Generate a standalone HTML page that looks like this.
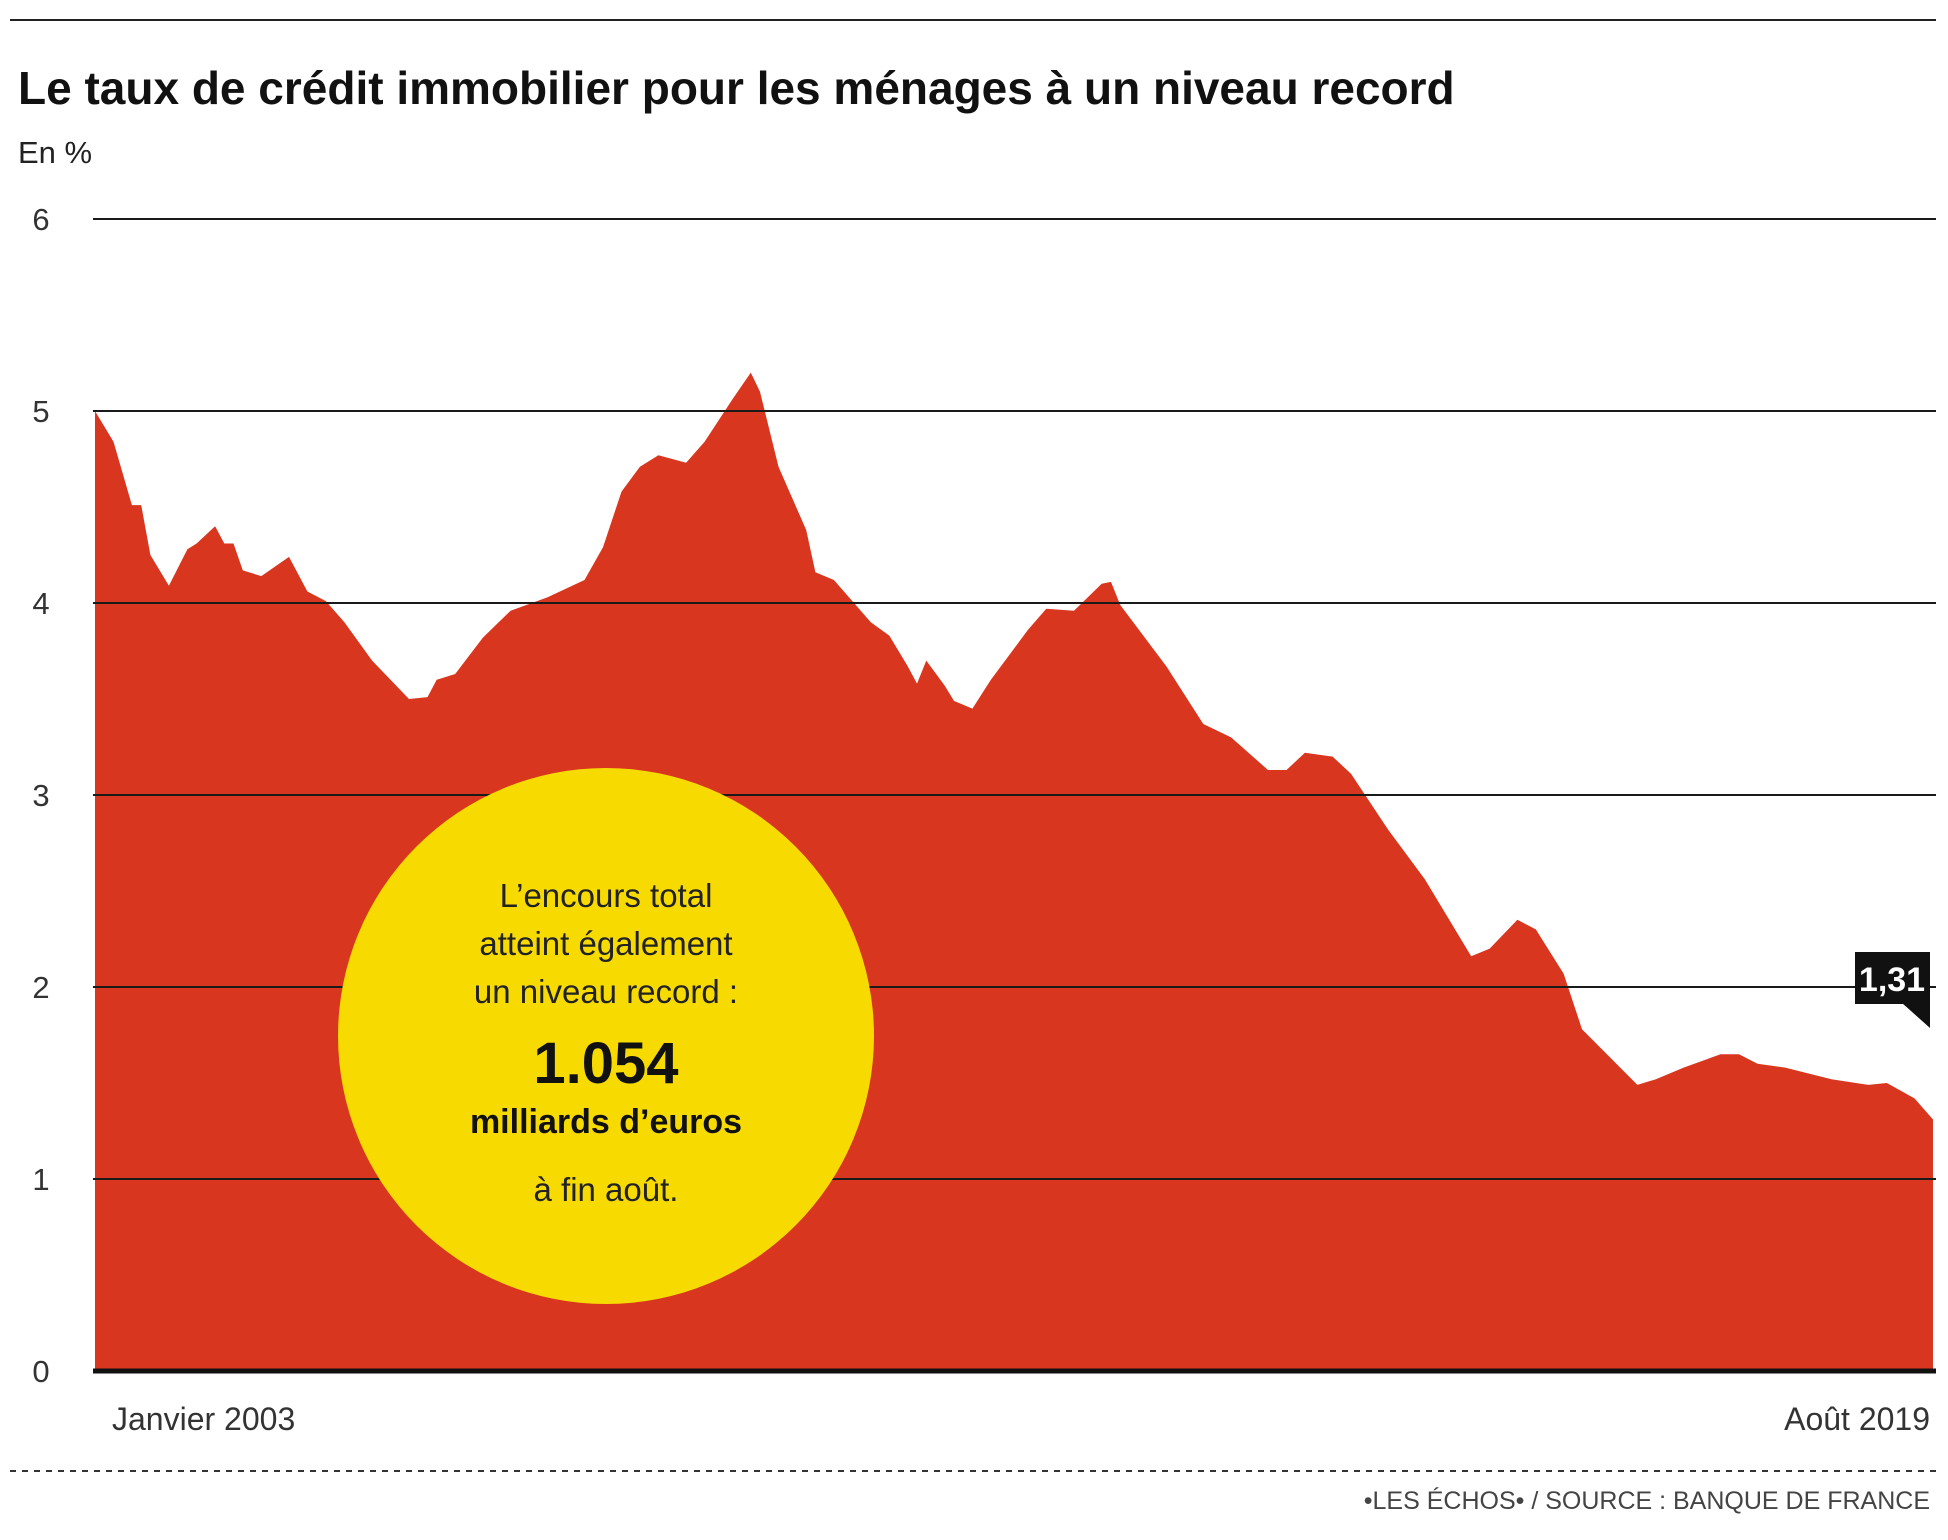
<!DOCTYPE html>
<html><head><meta charset="utf-8"><style>
html,body{margin:0;padding:0;background:#fff;}
svg{display:block;font-family:"Liberation Sans",sans-serif;}
</style></head><body>
<svg id="chart" width="1948" height="1540" viewBox="0 0 1948 1540" xmlns="http://www.w3.org/2000/svg">
<line x1="10" y1="20" x2="1936" y2="20" stroke="#222" stroke-width="2"/>
<text x="18" y="104" font-size="46" font-weight="bold" fill="#111">Le taux de crédit immobilier pour les ménages à un niveau record</text>
<text x="18" y="163" font-size="31" fill="#222">En %</text>
<g id="fillg"></g>
<g id="grid"></g>
<g id="ticks"></g>
<circle cx="606" cy="1036" r="268" fill="#f6da00"/>
<g text-anchor="middle" fill="#222">
<text x="606" y="907" font-size="33">L’encours total</text>
<text x="606" y="955" font-size="33">atteint également</text>
<text x="606" y="1003" font-size="33">un niveau record :</text>
<text x="606" y="1083" font-size="58" font-weight="bold" fill="#111">1.054</text>
<text x="606" y="1133" font-size="34" font-weight="bold" fill="#111">milliards d’euros</text>
<text x="606" y="1201" font-size="33">à fin août.</text>
</g>
<g>
<rect x="1855" y="952" width="75" height="52" fill="#111"/>
<polygon points="1902,1003 1930,1003 1930,1028" fill="#111"/>
<text x="1892" y="991" font-size="34" font-weight="bold" fill="#fff" text-anchor="middle">1,31</text>
</g>
<text x="112" y="1430" font-size="32" fill="#333">Janvier 2003</text>
<text x="1930" y="1430" font-size="32" fill="#333" text-anchor="end">Août 2019</text>
<line x1="10" y1="1471" x2="1936" y2="1471" stroke="#333" stroke-width="2" stroke-dasharray="6,6"/>
<text x="1930" y="1509" font-size="25" fill="#444" text-anchor="end">•LES ÉCHOS• / SOURCE : BANQUE DE FRANCE</text>
</svg>
<script>
const months = [0,2,4,5,6,8,10,11,13,14,15,16,18,21,23,25,27,30,34,36,37,39,42,45,49,53,55,57,59,61,64,66,69,71,72,74,77,78,80,84,86,88,89,90,92,93,95,97,101,103,106,109,110,111,116,120,123,127,129,131,134,136,140,144,149,151,154,156,159,161,167,169,172,176,178,180,183,188,192,194,197,199];
const rates = [5.0,4.84,4.51,4.51,4.25,4.09,4.28,4.31,4.4,4.31,4.31,4.17,4.14,4.24,4.06,4.01,3.9,3.7,3.5,3.51,3.6,3.63,3.82,3.96,4.03,4.12,4.29,4.58,4.71,4.77,4.73,4.84,5.06,5.2,5.1,4.71,4.38,4.16,4.12,3.9,3.83,3.67,3.58,3.7,3.57,3.49,3.45,3.6,3.86,3.97,3.96,4.1,4.11,3.99,3.67,3.37,3.3,3.13,3.13,3.22,3.2,3.11,2.82,2.56,2.16,2.2,2.35,2.3,2.07,1.78,1.49,1.52,1.58,1.65,1.65,1.6,1.58,1.52,1.49,1.5,1.42,1.31];
const yTicks = [0,1,2,3,4,5,6];
const monthMax = 199;
const X0=95, X1=1933, Y0=1371, UNIT=192;
const xs = m => X0 + m/monthMax*(X1-X0);
const ys = v => Y0 - v*UNIT;
const NS="http://www.w3.org/2000/svg";
let d = "M"+xs(months[0])+","+ys(0);
for(let i=0;i<months.length;i++) d += " L"+xs(months[i]).toFixed(1)+","+ys(rates[i]).toFixed(1);
d += " L"+xs(months[months.length-1])+","+ys(0)+" Z";
const area=document.createElementNS(NS,"path");


area.setAttribute("d",d);area.setAttribute("fill","#d8361e");
document.getElementById("fillg").appendChild(area);
for(const t of yTicks){
  const ln=document.createElementNS(NS,"line");
  
  
  ln.setAttribute("x1",93);ln.setAttribute("x2",1936);
  ln.setAttribute("y1",ys(t));ln.setAttribute("y2",ys(t));
  ln.setAttribute("stroke",t===0?"#111":"#1a1a1a");ln.setAttribute("stroke-width",t===0?5:2);
  document.getElementById("grid").appendChild(ln);
  const tx=document.createElementNS(NS,"text");
  
  
  tx.setAttribute("x",41);tx.setAttribute("y",ys(t)+11);
  tx.setAttribute("font-size","31");tx.setAttribute("fill","#333");tx.setAttribute("text-anchor","middle");
  tx.textContent=String(t);
  document.getElementById("ticks").appendChild(tx);
}
</script>
</body></html>
